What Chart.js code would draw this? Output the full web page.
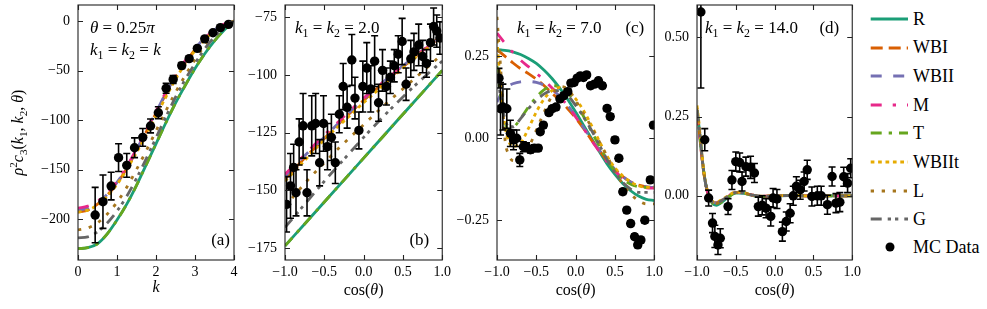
<!DOCTYPE html>
<html><head><meta charset="utf-8">
<script src="https://cdn.jsdelivr.net/npm/chart.js@4.4.0/dist/chart.umd.min.js"></script>
<style>
html,body{margin:0;padding:0;background:#fff;}
body{width:987px;height:309px;position:relative;overflow:hidden;font-family:"Liberation Serif",serif;}
.panel{position:absolute;top:-20px;height:329px;}
.leg{position:absolute;left:868px;height:20px;display:flex;align-items:center;font-size:18px;color:#000;white-space:nowrap;}
.leg svg{flex:none;}
.leg span{margin-left:3px;}
</style></head><body>
<script>
// series names in plotting order
const NAMES = ['R', 'WBI', 'WBII', 'M', 'T', 'WBIIt', 'L', 'G'];

// (a) theta = 0.25 pi, k1 = k2 = k
const kA = [0, 0.25, 0.5, 0.75, 1, 1.25, 1.5, 1.75, 2, 2.25, 2.5, 2.75, 3, 3.25, 3.5, 3.75, 4];
const aR = [-230, -229, -225, -215, -201, -185, -166, -145, -124, -103, -83, -65, -48, -33, -20, -9, 0];
const aWBI = [-193, -191, -185, -176, -164, -149, -131, -112, -93, -74, -57, -42, -29, -18, -10, -4, 0];
const aWBII = [-191, -189, -184, -175, -163, -148, -130, -111, -92, -73, -56, -41, -28, -17, -9, -3, 0];
const aM = [-189, -187, -182, -174, -162, -147, -129, -110, -91, -72, -55, -40, -27, -17, -9, -3, 0];
const aT = [-230, -229, -225, -215, -201, -185, -166, -145, -124, -103, -83, -65, -48, -33, -20, -9, 0];
const aWBIIt = [-193, -191, -186, -177, -165, -150, -133, -115, -96, -77, -59, -43, -30, -19, -10, -4, 0];
const aL = [-211, -209, -204, -195, -183, -168, -150, -131, -111, -91, -72, -55, -39, -25, -14, -6, 0];
const aG = [-219, -218, -213, -204, -192, -177, -159, -139, -118, -97, -77, -59, -43, -28, -16, -7, 0];
const aMCx = [0.44, 0.64, 0.85, 1.04, 1.25, 1.45, 1.66, 1.86, 2.06, 2.26, 2.44, 2.66, 2.85, 3.06, 3.25, 3.46, 3.65, 3.86];
const aMCy = [-196, -182.5, -166.7, -138, -145.8, -128, -117.5, -106, -92.6, -68, -59, -45, -38, -27.6, -18, -11.8, -6.7, -3.4];
const aMCe = [28, 27, 14, 14, 12, 10, 9, 7, 6, 5, 4, 3, 2, 2, 1, 1, 1, 1];

// (b) k1 = k2 = 2.0
const bX = [-1, -0.75, -0.5, -0.25, 0, 0.25, 0.5, 0.75, 1];
const bR = [-174, -164.5, -155, -145.5, -136, -126.5, -117, -107.5, -98];
const bWBI = [-145, -136, -127.5, -119, -111, -103.5, -96.5, -89.5, -83];
const bWBII = [-144, -135, -127, -118.5, -110.5, -103, -96, -89.5, -83.5];
const bM = [-143, -134.5, -126, -118, -110, -103, -96, -89.5, -83];
const bT = [-174, -164.5, -155, -145.5, -136, -126.5, -117, -107.5, -98];
const bWBIIt = [-146, -137, -128, -120, -112, -104.5, -97, -90, -84];
const bL = [-157, -147, -138, -129.5, -121.5, -113.5, -106, -98.5, -91];
const bG = [-166, -156, -146, -136.5, -127, -118, -109.5, -101.5, -94];
const bMCx = [-0.98, -0.93, -0.89, -0.86, -0.82, -0.77, -0.72, -0.66, -0.61, -0.56, -0.51, -0.46, -0.41, -0.36, -0.31, -0.26, -0.21, -0.15, -0.11, -0.06, -0.01,
  0.04, 0.09, 0.14, 0.19, 0.24, 0.29, 0.34, 0.39, 0.44, 0.49, 0.54, 0.6, 0.64, 0.7, 0.75, 0.8, 0.85, 0.89, 0.93, 0.97];
const bMCy = [-156, -148, -140, -151, -129, -122, -151, -122, -121, -138, -121, -131, -127, -138, -117, -105, -114, -93.5, -110, -124, -105,
  -97, -106, -94, -112, -98, -105, -101, -96, -91, -85.5, -104, -93, -90, -87, -92, -95, -86, -79, -81, -84];
const bMCe = [12, 14, 10, 10, 10, 14, 10, 13, 13, 10, 12, 10, 10, 9, 8, 10, 9, 11, 9, 8, 11,
  11, 10, 11, 8, 9, 8, 7, 7, 8, 10, 7, 8, 8, 9, 7, 6, 8, 8, 7, 7];

// (c) k1 = k2 = 7.0
const cX = [-1, -0.95, -0.9, -0.85, -0.8, -0.7, -0.6, -0.5, -0.4, -0.3, -0.2, -0.1, 0, 0.1, 0.2, 0.3, 0.4, 0.5, 0.6, 0.7, 0.8, 0.9, 1];
const cR = [0.27, 0.269, 0.268, 0.266, 0.263, 0.255, 0.243, 0.228, 0.207, 0.182, 0.152, 0.118, 0.08, 0.04, 0.0, -0.04, -0.078, -0.11, -0.138, -0.16, -0.176, -0.186, -0.19];
const cWBI = [0.27, 0.26, 0.25, 0.24, 0.23, 0.212, 0.197, 0.18, 0.16, 0.137, 0.115, 0.09, 0.062, 0.03, -0.005, -0.037, -0.068, -0.095, -0.117, -0.133, -0.143, -0.148, -0.15];
const cWBII = [0.11, 0.135, 0.15, 0.16, 0.166, 0.172, 0.173, 0.17, 0.162, 0.148, 0.128, 0.1, 0.068, 0.033, -0.002, -0.036, -0.068, -0.095, -0.117, -0.133, -0.143, -0.148, -0.15];
const cM = [0.32, 0.305, 0.29, 0.275, 0.262, 0.238, 0.218, 0.198, 0.177, 0.153, 0.127, 0.098, 0.065, 0.03, -0.006, -0.04, -0.072, -0.1, -0.122, -0.138, -0.147, -0.151, -0.152];
const cT = [0.22, 0.12, 0.05, 0.025, 0.03, 0.06, 0.095, 0.125, 0.148, 0.16, 0.157, 0.138, 0.107, 0.067, 0.022, -0.023, -0.065, -0.1, -0.125, -0.14, -0.148, -0.15, -0.147];
const cWBIIt = [0.3, 0.15, 0.04, -0.01, -0.025, -0.015, 0.03, 0.08, 0.12, 0.145, 0.155, 0.145, 0.12, 0.085, 0.04, -0.008, -0.055, -0.09, -0.115, -0.133, -0.145, -0.15, -0.15];
const cL = [0.37, 0.2, 0.0, -0.05, -0.068, -0.07, -0.03, 0.025, 0.08, 0.13, 0.158, 0.15, 0.115, 0.075, 0.035, -0.01, -0.055, -0.1, -0.14, -0.17, -0.19, -0.2, -0.2];
const cG = [0.2, 0.12, 0.06, 0.035, 0.035, 0.06, 0.09, 0.115, 0.135, 0.145, 0.145, 0.13, 0.1, 0.065, 0.025, -0.02, -0.065, -0.105, -0.135, -0.155, -0.165, -0.165, -0.165];
const cMCx = [-0.975, -0.955, -0.925, -0.875, -0.83, -0.79, -0.75, -0.71, -0.665, -0.625, -0.575, -0.525, -0.475, -0.45, -0.41, -0.34, -0.3, -0.25, -0.2, -0.15, -0.1, -0.06,
  -0.02, 0.02, 0.06, 0.1, 0.14, 0.19, 0.24, 0.29, 0.34, 0.4, 0.44, 0.5, 0.55, 0.6, 0.65, 0.7, 0.75, 0.79, 0.83, 0.88, 0.95, 0.99];
const cMCy = [0.183, 0.09, 0.095, 0.09, 0.015, -0.005, 0.0, -0.066, -0.026, -0.026, -0.035, -0.03, -0.03, 0.02, 0.04, 0.078, 0.09, 0.095, 0.12, 0.13, 0.142, 0.168,
  0.17, 0.183, 0.19, 0.185, 0.193, 0.16, 0.165, 0.175, 0.16, 0.091, 0.066, -0.005, -0.061, -0.163, -0.219, -0.26, -0.3, -0.325, -0.31, -0.25, -0.127, 0.04];
const cMCe = [0.03, 0.08, 0.07, 0.06, 0.04, 0.03, 0.025, 0.02, 0.015, 0.012, 0.01, 0.01, 0.008, 0.008, 0.008, 0.008, 0.008, 0.008, 0.008, 0.008, 0.008, 0.008,
  0.008, 0.008, 0.008, 0.008, 0.008, 0.008, 0.008, 0.008, 0.008, 0.008, 0.008, 0.008, 0.008, 0.008, 0.008, 0.008, 0.008, 0.008, 0.008, 0.008, 0.008, 0.008];

// (d) k1 = k2 = 14.0
const dX = [-1, -0.97, -0.94, -0.91, -0.88, -0.85, -0.8, -0.75, -0.7, -0.6, -0.5, -0.4, -0.3, -0.2, -0.1, 0, 0.2, 0.4, 0.6, 0.8, 1];
const dR = [0.27, 0.21, 0.135, 0.072, 0.028, 0.0, -0.025, -0.03, -0.024, -0.005, 0.009, 0.008, 0.002, -0.002, -0.002, 0, 0.001, 0, 0, 0, 0];
const dWBI = [0.26, 0.2, 0.128, 0.068, 0.027, 0.0, -0.018, -0.022, -0.017, -0.002, 0.01, 0.009, 0.003, -0.001, -0.001, 0, 0.001, 0, 0, 0, 0];
const dWBII = [0.26, 0.2, 0.128, 0.068, 0.027, 0.0, -0.018, -0.022, -0.017, -0.002, 0.01, 0.009, 0.003, -0.001, -0.001, 0, 0.001, 0, 0, 0, 0];
const dM = [0.26, 0.2, 0.13, 0.069, 0.028, 0.001, -0.017, -0.021, -0.016, -0.001, 0.011, 0.009, 0.003, -0.001, -0.001, 0, 0.001, 0, 0, 0, 0];
const dT = [0.27, 0.21, 0.134, 0.071, 0.028, 0.0, -0.024, -0.029, -0.023, -0.004, 0.009, 0.008, 0.002, -0.002, -0.002, 0, 0.001, 0, 0, 0, 0];
const dWBIIt = [0.285, 0.22, 0.14, 0.075, 0.031, 0.002, -0.017, -0.021, -0.015, 0.0, 0.012, 0.01, 0.003, -0.001, -0.001, 0, 0.001, 0, 0, 0, 0];
const dL = [0.275, 0.215, 0.136, 0.072, 0.029, 0.0, -0.02, -0.024, -0.018, -0.002, 0.01, 0.009, 0.003, -0.001, -0.001, 0, 0.001, 0, 0, 0, 0];
const dG = [0.27, 0.21, 0.133, 0.07, 0.028, 0.0, -0.02, -0.024, -0.018, -0.002, 0.01, 0.009, 0.003, -0.001, -0.001, 0, 0.001, 0, 0, 0, 0];
const dMCx = [-0.95, -0.9, -0.85, -0.8, -0.77, -0.73, -0.7, -0.6, -0.55, -0.5, -0.45, -0.42, -0.37, -0.31, -0.26, -0.21, -0.16, -0.11, -0.05, -0.02,
  0.03, 0.1, 0.15, 0.2, 0.24, 0.28, 0.33, 0.38, 0.42, 0.48, 0.55, 0.6, 0.68, 0.74, 0.79, 0.84, 0.89, 0.94, 0.98];
const dMCy = [0.58, 0.177, -0.007, -0.086, -0.128, -0.155, -0.134, -0.034, 0.05, 0.108, 0.105, 0.045, 0.092, 0.09, 0.072, -0.034, -0.03, -0.039, -0.065, -0.007,
  -0.01, -0.113, -0.081, -0.055, 0.0, 0.03, 0.019, 0.045, 0.082, -0.002, 0.0, 0.0, -0.028, 0.061, -0.023, -0.02, 0.06, 0.04, 0.087];
const dMCe = [0.24, 0.035, 0.025, 0.03, 0.035, 0.03, 0.03, 0.025, 0.03, 0.03, 0.03, 0.03, 0.03, 0.035, 0.03, 0.03, 0.03, 0.03, 0.03, 0.03,
  0.03, 0.03, 0.03, 0.03, 0.03, 0.03, 0.03, 0.03, 0.03, 0.03, 0.03, 0.03, 0.03, 0.03, 0.03, 0.03, 0.03, 0.03, 0.03];

const COLORS = { R: '#1b9e77', WBI: '#d95f02', WBII: '#7570b3', M: '#e7298a', T: '#66a61e', WBIIt: '#e6ab02', L: '#a6761d', G: '#666666' };
const DASH = { R: [], WBI: [12, 6], WBII: [11, 11.5], M: [11, 11, 3.3, 11], T: [11, 7, 3.3, 7], WBIIt: [3.7, 3.7], L: [3.3, 7.7], G: [11, 6, 3.3, 4, 3.3, 6] };
const SERIF = '"Liberation Serif", "DejaVu Serif", serif';

function fmt(v, d) {
  const s = Math.abs(v).toFixed(d);
  return v < 0 ? '\u2212' + s : s;
}

// draws text made of pieces: 'i' italic, 'n' upright, 'sub' / 'sup' small
function drawRich(ctx, segs, x, y, size, align) {
  const fontFor = s => {
    const sz = (s === 'sub' || s === 'sup') ? size * 0.7 : size;
    return (s === 'i' ? 'italic ' : '') + sz + 'px ' + SERIF;
  };
  let w = 0;
  segs.forEach(([t, s]) => { ctx.font = fontFor(s); w += ctx.measureText(t).width; });
  let cx = align === 'center' ? x - w / 2 : align === 'right' ? x - w : x;
  ctx.textAlign = 'left';
  ctx.textBaseline = 'alphabetic';
  ctx.fillStyle = '#000';
  segs.forEach(([t, s]) => {
    ctx.font = fontFor(s);
    const dy = s === 'sub' ? size * 0.22 : s === 'sup' ? -size * 0.4 : 0;
    ctx.fillText(t, cx, y + dy);
    cx += ctx.measureText(t).width;
  });
}

const kEq = v => [['k', 'i'], ['1', 'sub'], [' = ', 'n'], ['k', 'i'], ['2', 'sub'], [' = ' + v, 'n']];
const COS = [['cos(', 'n'], ['θ', 'i'], [')', 'n']];

const panels = [
  { left: 0, width: 247, yw: 78, xr: [0, 4], yr: [-241.4, 16.2], xt: [0, 1, 2, 3, 4], yt: [0, -50, -100, -150, -200], xd: 0, yd: 0,
    cx: kA, curves: { R: aR, WBI: aWBI, WBII: aWBII, M: aM, T: aT, WBIIt: aWBIIt, L: aL, G: aG }, mc: [aMCx, aMCy, aMCe],
    xlab: [['k', 'i']], xlabDy: 32, ylab: true,
    notes: [
      { segs: [['θ', 'i'], [' = 0.25', 'n'], ['π', 'i']], dx: 12, dy: 28, align: 'left' },
      { segs: [['k', 'i'], ['1', 'sub'], [' = ', 'n'], ['k', 'i'], ['2', 'sub'], [' = ', 'n'], ['k', 'i']], dx: 12, dy: 50, align: 'left' },
      { segs: [['(a)', 'n']], dx: -4, dy: 240, align: 'right' }
    ] },
  { left: 235, width: 220, yw: 50, xr: [-1, 1], yr: [-180.1, -69.7], xt: [-1, -0.5, 0, 0.5, 1], yt: [-75, -100, -125, -150, -175], xd: 1, yd: 0,
    cx: bX, curves: { R: bR, WBI: bWBI, WBII: bWBII, M: bM, T: bT, WBIIt: bWBIIt, L: bL, G: bG }, mc: [bMCx, bMCy, bMCe],
    xlab: COS, xlabDy: 35,
    notes: [
      { segs: kEq('2.0'), dx: 10, dy: 28, align: 'left' },
      { segs: [['(b)', 'n']], dx: -13, dy: 240, align: 'right' }
    ] },
  { left: 447, width: 220, yw: 50, xr: [-1, 1], yr: [-0.371, 0.406], xt: [-1, -0.5, 0, 0.5, 1], yt: [0.25, 0, -0.25], xd: 1, yd: 2,
    cx: cX, curves: { R: cR, WBI: cWBI, WBII: cWBII, M: cM, T: cT, WBIIt: cWBIIt, L: cL, G: cG }, mc: [cMCx, cMCy, cMCe],
    xlab: COS, xlabDy: 35,
    notes: [
      { segs: kEq('7.0'), dx: 20, dy: 28, align: 'left' },
      { segs: [['(c)', 'n']], dx: -10, dy: 28, align: 'right' }
    ] },
  { left: 647, width: 218, yw: 50, xr: [-1, 1], yr: [-0.2025, 0.602], xt: [-1, -0.5, 0, 0.5, 1], yt: [0.5, 0.25, 0], xd: 1, yd: 2,
    cx: dX, curves: { R: dR, WBI: dWBI, WBII: dWBII, M: dM, T: dT, WBIIt: dWBIIt, L: dL, G: dG }, mc: [dMCx, dMCy, dMCe],
    xlab: COS, xlabDy: 35,
    notes: [
      { segs: kEq('14.0'), dx: 8, dy: 28, align: 'left' },
      { segs: [['(d)', 'n']], dx: -13, dy: 28, align: 'right' }
    ] }
];

function makePanel(p) {
  const div = document.createElement('div');
  div.className = 'panel';
  div.style.left = p.left + 'px';
  div.style.width = p.width + 'px';
  const cv = document.createElement('canvas');
  div.appendChild(cv);
  document.body.appendChild(div);

  const datasets = [{
    label: 'MC Data',
    data: p.mc[0].map((x, i) => ({ x, y: p.mc[1][i] })),
    showLine: false, pointRadius: 4.7, pointHoverRadius: 4.7,
    pointBackgroundColor: '#000', pointBorderWidth: 0, order: 0
  }];
  NAMES.forEach((n, i) => {
    datasets.push({
      label: n,
      data: p.cx.map((x, j) => ({ x, y: p.curves[n][j] })),
      borderColor: COLORS[n], borderWidth: 2.8, borderDash: DASH[n], borderCapStyle: 'butt',
      pointRadius: 0, cubicInterpolationMode: 'monotone', fill: false, order: NAMES.length - i
    });
  });

  const panelDecor = {
    id: 'panelDecor',
    afterDatasetsDraw(chart) {
      const { ctx, chartArea: a, scales: { x, y } } = chart;
      ctx.save();
      ctx.beginPath();
      ctx.rect(a.left, a.top, a.width, a.height);
      ctx.clip();
      ctx.strokeStyle = '#000';
      ctx.lineWidth = 1.6;
      p.mc[0].forEach((xv, i) => {
        const px = x.getPixelForValue(xv);
        const y1 = y.getPixelForValue(p.mc[1][i] - p.mc[2][i]);
        const y2 = y.getPixelForValue(p.mc[1][i] + p.mc[2][i]);
        ctx.beginPath();
        ctx.moveTo(px, y1); ctx.lineTo(px, y2);
        ctx.moveTo(px - 3.5, y1); ctx.lineTo(px + 3.5, y1);
        ctx.moveTo(px - 3.5, y2); ctx.lineTo(px + 3.5, y2);
        ctx.stroke();
      });
      ctx.restore();
    },
    afterDraw(chart) {
      const { ctx, chartArea: a, scales: { x, y } } = chart;
      ctx.save();
      ctx.strokeStyle = '#222';
      ctx.lineWidth = 1.1;
      ctx.strokeRect(a.left, a.top, a.width, a.height);
      ctx.beginPath();
      x.ticks.forEach(t => {
        const px = Math.round(x.getPixelForValue(t.value)) + 0.5;
        ctx.moveTo(px, a.bottom); ctx.lineTo(px, a.bottom - 5);
        ctx.moveTo(px, a.top); ctx.lineTo(px, a.top + 5);
      });
      y.ticks.forEach(t => {
        const py = Math.round(y.getPixelForValue(t.value)) + 0.5;
        ctx.moveTo(a.left, py); ctx.lineTo(a.left + 5, py);
        ctx.moveTo(a.right, py); ctx.lineTo(a.right - 5, py);
      });
      ctx.stroke();
      p.notes.forEach(n => {
        const tx = n.align === 'left' ? a.left + n.dx : a.right + n.dx;
        drawRich(ctx, n.segs, tx, a.top + n.dy, 17, n.align);
      });
      drawRich(ctx, p.xlab, (a.left + a.right) / 2, a.bottom + p.xlabDy, 16, 'center');
      if (p.ylab) {
        ctx.translate(a.left - p.yw + 23, (a.top + a.bottom) / 2);
        ctx.rotate(-Math.PI / 2);
        drawRich(ctx, [['ρ', 'i'], ['2', 'sup'], ['c', 'i'], ['3', 'sub'], ['(', 'n'], ['k', 'i'], ['1', 'sub'], [', ', 'n'],
          ['k', 'i'], ['2', 'sub'], [', ', 'n'], ['θ', 'i'], [')', 'n']], 0, 0, 16, 'center');
      }
      ctx.restore();
    }
  };

  const tickFont = { family: SERIF, size: 14 };
  new Chart(cv, {
    type: 'line',
    data: { datasets },
    options: {
      responsive: true, maintainAspectRatio: false, animation: false, devicePixelRatio: 1,
      layout: { padding: { top: 25, right: p.width - p.yw - (p.left === 0 ? 156 : 158), bottom: 0, left: 0 } },
      plugins: { legend: { display: false }, tooltip: { enabled: false } },
      scales: {
        x: {
          type: 'linear', min: p.xr[0], max: p.xr[1],
          afterBuildTicks: s => { s.ticks = p.xt.map(v => ({ value: v })); },
          afterFit: s => { s.height = 49; },
          grid: { display: false, drawTicks: false }, border: { display: false },
          ticks: { font: tickFont, color: '#000', padding: 4, maxRotation: 0, autoSkip: false, callback: v => fmt(v, p.xd) }
        },
        y: {
          type: 'linear', min: p.yr[0], max: p.yr[1],
          afterBuildTicks: s => { s.ticks = p.yt.map(v => ({ value: v })); },
          afterFit: s => { s.width = p.yw; },
          grid: { display: false, drawTicks: false }, border: { display: false },
          ticks: { font: tickFont, color: '#000', padding: 8, autoSkip: false, callback: v => fmt(v, p.yd) }
        }
      }
    },
    plugins: [panelDecor]
  });
}

panels.forEach(makePanel);

// legend on the right
const LEG_Y = [19, 47.5, 76, 105, 133, 162, 191, 219];
NAMES.forEach((n, i) => {
  const row = document.createElement('div');
  row.className = 'leg';
  row.style.top = (LEG_Y[i] - 10) + 'px';
  row.innerHTML = '<svg width="42" height="20"><line x1="2.7" y1="10" x2="40" y2="10" stroke="' + COLORS[n] +
    '" stroke-width="2.8" stroke-dasharray="' + (DASH[n].length ? DASH[n].join(' ') : 'none') + '"/></svg><span>' + n + '</span>';
  document.body.appendChild(row);
});
const mcRow = document.createElement('div');
mcRow.className = 'leg';
mcRow.style.top = (247 - 10) + 'px';
mcRow.innerHTML = '<svg width="42" height="20"><circle cx="22" cy="10" r="4.5" fill="#000"/></svg><span>MC Data</span>';
document.body.appendChild(mcRow);
</script>
</body></html>
